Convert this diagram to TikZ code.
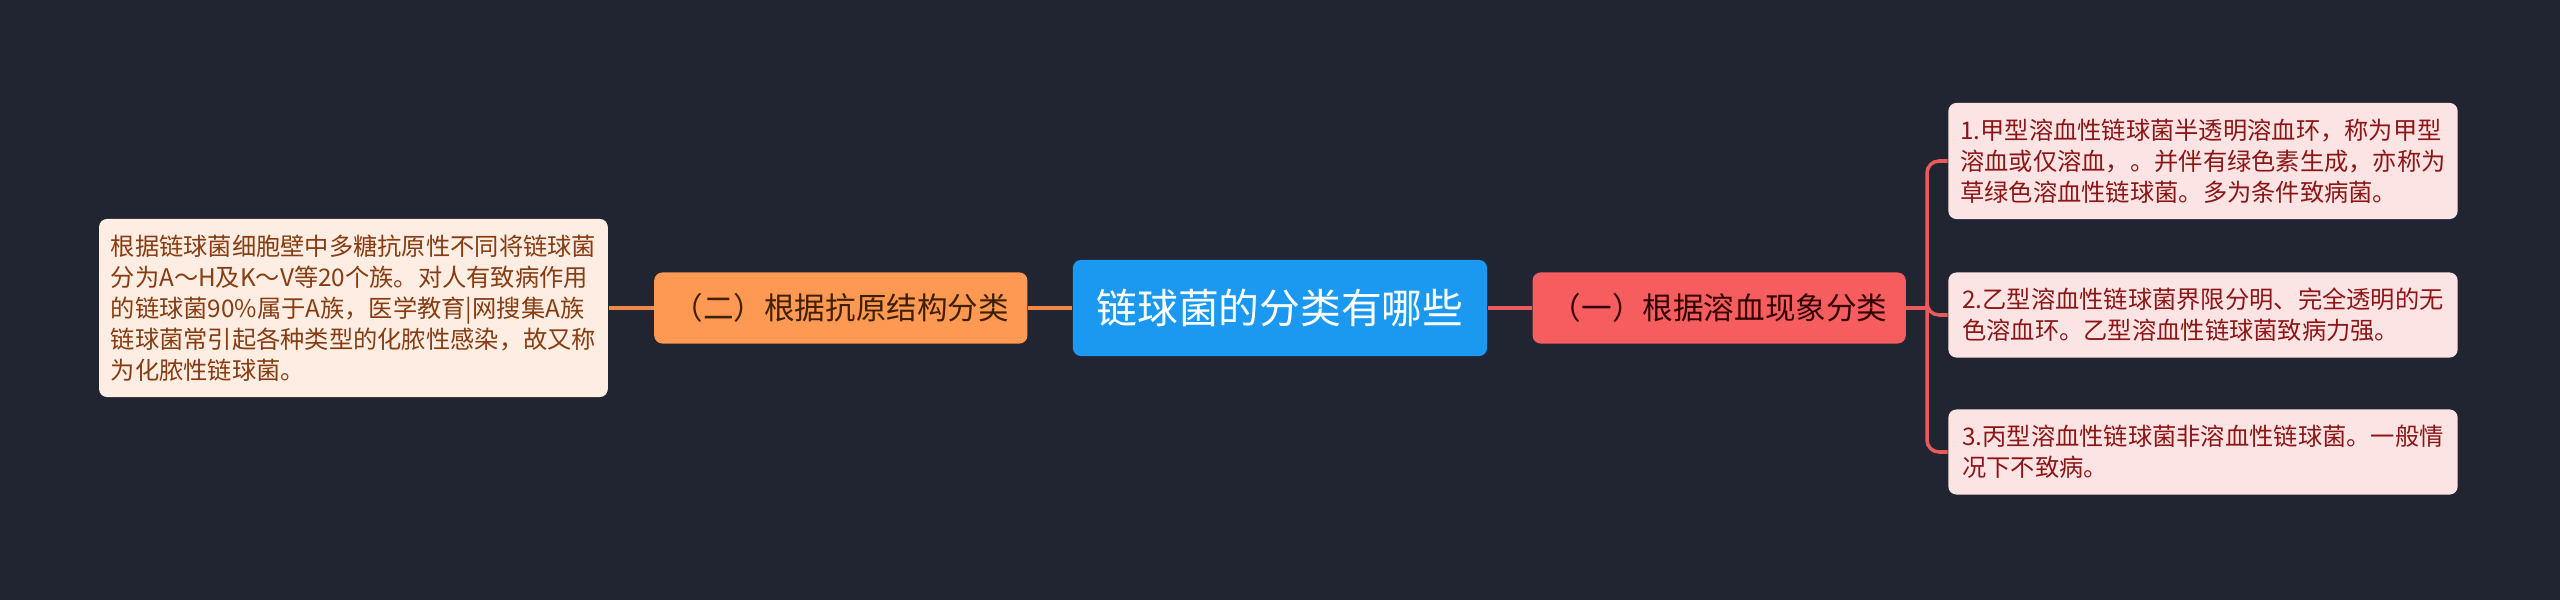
\documentclass[tikz,border=0pt]{standalone}
\usepackage{fontspec}
\setmainfont{Noto Sans CJK SC}
\usetikzlibrary{positioning}
\definecolor{bgcol}{RGB}{33,37,49}
\definecolor{rootblue}{RGB}{27,152,240}
\definecolor{hemored}{RGB}{246,93,94}
\definecolor{antiorange}{RGB}{253,153,82}
\definecolor{pinkleaf}{RGB}{253,228,228}
\definecolor{peachleaf}{RGB}{253,237,226}
\definecolor{redtext}{RGB}{140,22,22}
\definecolor{browntext}{RGB}{135,60,18}
\definecolor{redline}{RGB}{232,90,92}
\definecolor{orangeline}{RGB}{240,137,74}

\begin{document}
\begin{tikzpicture}[x=0.01cm,y=-0.01cm,node distance=0.44cm,
        branch/.style={rounded corners=0.08cm, minimum width=3.73cm, minimum height=0.71cm,
            font=\fontsize{8.7pt}{10pt}\selectfont},
        leaf/.style={rounded corners=0.08cm, minimum width=5.09cm, align=left,
            font=\fontsize{6.9pt}{8.8pt}\selectfont},
        rline/.style={draw=redline, line width=1pt, rounded corners=0.12cm},
        oline/.style={draw=orangeline, line width=1pt}]
    \fill[bgcol] (0,0) rectangle (2560,600);
    \useasboundingbox (0,0) rectangle (2560,600);

    \node[fill=rootblue, rounded corners=0.08cm, minimum width=4.14cm, minimum height=0.96cm,
        text=white, font=\fontsize{11.6pt}{14pt}\selectfont] (root) at (1280,308) {链球菌的分类有哪些};
    \node[branch, fill=hemored, text=black!80!red, right=of root] (hemo) {（一）根据溶血现象分类};
    \node[branch, fill=antiorange, text=black!75!orange, left=of root] (anti) {（二）根据抗原结构分类};

    \node[leaf, fill=peachleaf, text=browntext, minimum width=5.08cm, minimum height=1.78cm,
        left=0.45cm of anti] (group)
        {根据链球菌细胞壁中多糖抗原性不同将链球菌\\分为A～H及K～V等20个族。对人有致病作用\\的链球菌90\%属于A族，医学教育|网搜集A族\\链球菌常引起各种类型的化脓性感染，故又称\\为化脓性链球菌。};

    \node[leaf, fill=pinkleaf, text=redtext, minimum height=1.16cm] (alpha) at (2203,161)
        {1.甲型溶血性链球菌半透明溶血环，称为甲型\\溶血或仅溶血，。并伴有绿色素生成，亦称为\\草绿色溶血性链球菌。多为条件致病菌。};
    \node[leaf, fill=pinkleaf, text=redtext, minimum height=0.85cm] (beta) at (2203,315)
        {2.乙型溶血性链球菌界限分明、完全透明的无\\色溶血环。乙型溶血性链球菌致病力强。};
    \node[leaf, fill=pinkleaf, text=redtext, minimum height=0.85cm] (gamma) at (2203,452)
        {3.丙型溶血性链球菌非溶血性链球菌。一般情\\况下不致病。};

    \coordinate (fork) at (1927,308);

    \draw[rline] (root) -- (hemo);
    \draw[rline] (hemo) -- (fork);
    \foreach \to in {alpha,beta,gamma}
        \draw[rline] (fork) |- (\to.west);

    \draw[oline] (root) -- (anti);
    \draw[oline] (anti) -- (group);
\end{tikzpicture}
\end{document}
